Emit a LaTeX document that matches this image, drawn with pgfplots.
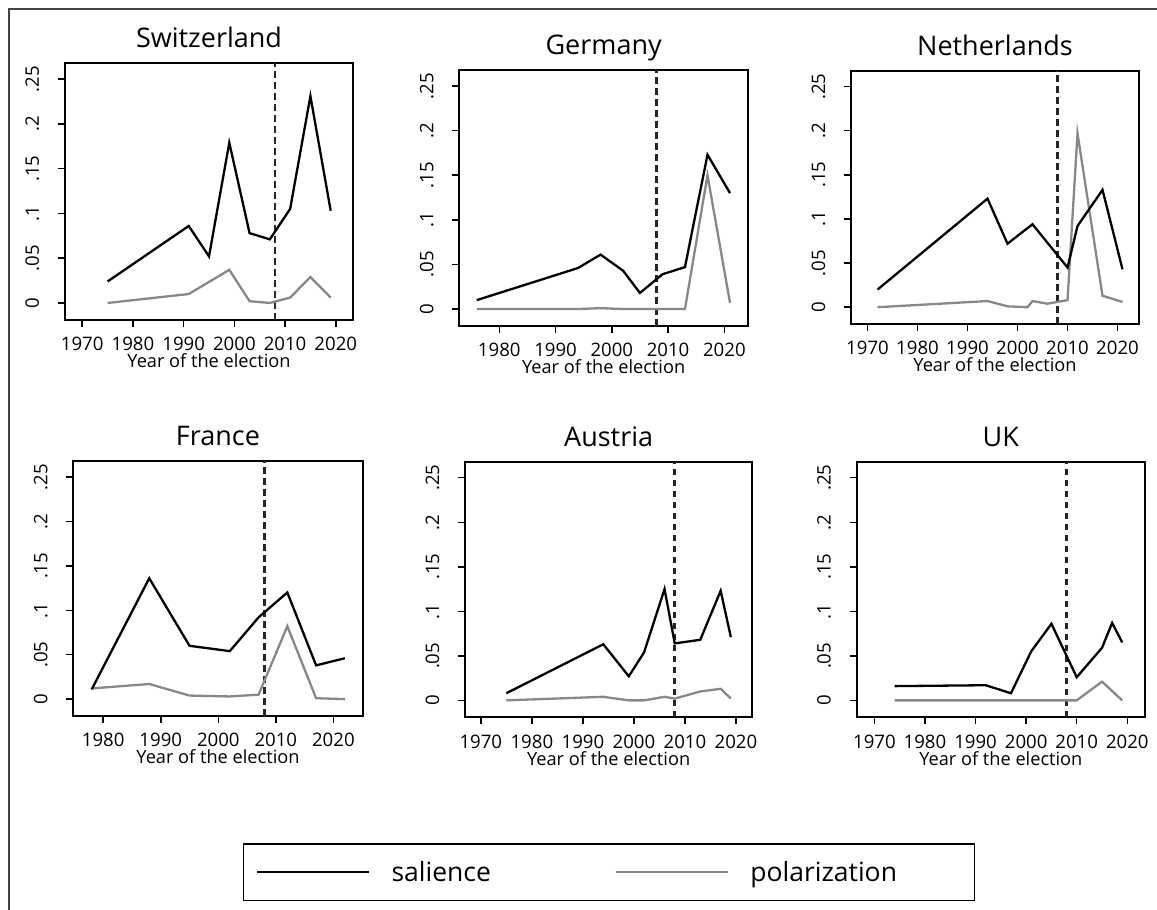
\documentclass[border=0pt]{standalone}
\usepackage{fontspec}
\setmainfont{Open Sans}
\usepackage{pgfplots}
\pgfplotsset{compat=1.18}

\definecolor{polgray}{HTML}{888888}
\definecolor{framegray}{HTML}{444444}

\pgfplotsset{
  panel/.style={
    anchor=south west, scale only axis,
    ymin=-0.019, ymax=0.268,
    ytick={0,0.05,0.1,0.15,0.2,0.25},
    yticklabels={0,.05,.1,.15,.2,.25},
    xtick={1970,1980,...,2020},
    /pgf/number format/assume math mode=true,
    /pgf/number format/1000 sep={},
    tick align=outside, xtick pos=bottom, ytick pos=left,
    major tick length=7pt,
    tick style={line width=1.5pt, black},
    axis line style={line width=1.8pt},
    xticklabel style={font=\fontsize{18.6}{22}\selectfont, anchor=base, yshift=-24pt},
    yticklabel style={font=\fontsize{18.6}{22}\selectfont, xshift=-19pt, rotate=90, anchor=base},
    xlabel={Year of the election},
    xlabel style={font=\fontsize{18.2}{22}\selectfont, at={(axis description cs:0.5,0)}, anchor=base, yshift=-48pt},
    every axis title shift=0pt,
    title style={font=\fontsize{27}{32}\selectfont, at={(axis description cs:0.5,1)}, anchor=base, yshift=15.5pt},
    clip=false,
  },
  sal/.style={black, line width=2.3pt, line join=miter},
  pol/.style={polgray, line width=2.3pt},
  cut/.style={black!85, line width=2.8pt, dash pattern=on 6.5pt off 4.5pt},
}

\begin{document}
\begin{tikzpicture}[x=1pt,y=1pt]
\useasboundingbox (0,0) rectangle (1157,910);
\draw[framegray, line width=2pt] (9,0) -- (9,901) -- (1157,901);

% Switzerland
\begin{axis}[panel, title={Switzerland}, at={(65pt,590pt)}, width=288pt, height=257pt,
  xmin=1966.6, xmax=2023.4]
\addplot[cut] coordinates {(2008,-0.019) (2008,0.268)};
\addplot[pol] coordinates {(1975,0) (1991,0.010) (1999,0.037) (2003,0.002) (2007,0) (2011,0.006) (2015,0.029) (2019,0.006)};
\addplot[sal] coordinates {(1975,0.024) (1991,0.086) (1995,0.052) (1999,0.179) (2003,0.078) (2007,0.071) (2011,0.105) (2015,0.231) (2019,0.103)};
\end{axis}

% Germany
\begin{axis}[panel, title={Germany}, at={(459.3pt,584pt)}, width=288.7pt, height=256pt,
  xmin=1972.9, xmax=2024.2, xtick={1980,1990,...,2020}]
\addplot[cut] coordinates {(2008,-0.019) (2008,0.268)};
\addplot[pol] coordinates {(1976,0) (1994,0) (1998,0.001) (2002,0) (2005,0) (2009,0) (2013,0) (2017,0.150) (2021,0.007)};
\addplot[sal] coordinates {(1976,0.010) (1994,0.046) (1998,0.061) (2002,0.043) (2005,0.018) (2009,0.039) (2013,0.047) (2017,0.173) (2021,0.130)};
\end{axis}

% Netherlands
\begin{axis}[panel, title={Netherlands}, at={(851pt,586pt)}, width=288pt, height=253.3pt,
  xmin=1966.7, xmax=2024.3]
\addplot[cut] coordinates {(2008,-0.019) (2008,0.268)};
\addplot[pol] coordinates {(1972,0) (1994,0.007) (1998,0.001) (2002,0) (2003,0.007) (2006,0.004) (2010,0.008) (2012,0.197) (2017,0.013) (2021,0.006)};
\addplot[sal] coordinates {(1972,0.020) (1994,0.123) (1998,0.072) (2003,0.094) (2010,0.045) (2012,0.092) (2017,0.133) (2021,0.043)};
\end{axis}

% France
\begin{axis}[panel, title={France}, at={(73.3pt,194pt)}, width=289.4pt, height=255pt,
  xmin=1974.8, xmax=2025.1, xtick={1980,1990,...,2020}]
\addplot[cut] coordinates {(2008,-0.019) (2008,0.268)};
\addplot[pol] coordinates {(1978,0.012) (1988,0.017) (1995,0.004) (2002,0.003) (2007,0.005) (2012,0.082) (2017,0.001) (2022,0)};
\addplot[sal] coordinates {(1978,0.011) (1988,0.136) (1995,0.060) (2002,0.054) (2007,0.092) (2012,0.120) (2017,0.038) (2022,0.046)};
\end{axis}

% Austria
\begin{axis}[panel, title={Austria}, at={(465pt,192.7pt)}, width=287.3pt, height=255.6pt,
  xmin=1966.9, xmax=2023.2]
\addplot[cut] coordinates {(2008,-0.019) (2008,0.268)};
\addplot[pol] coordinates {(1975,0) (1994,0.004) (1999,0) (2002,0) (2006,0.004) (2008,0.002) (2013,0.010) (2017,0.013) (2019,0.002)};
\addplot[sal] coordinates {(1975,0.008) (1994,0.063) (1999,0.027) (2002,0.054) (2006,0.125) (2008,0.064) (2013,0.068) (2017,0.123) (2019,0.071)};
\end{axis}

% UK
\begin{axis}[panel, title={UK}, at={(856.7pt,192.7pt)}, width=288.3pt, height=255.6pt,
  xmin=1966.5, xmax=2023.5]
\addplot[cut] coordinates {(2008,-0.019) (2008,0.268)};
\addplot[pol] coordinates {(1974,0) (2010,0) (2015,0.021) (2019,0)};
\addplot[sal] coordinates {(1974,0.016) (1992,0.017) (1997,0.008) (2001,0.055) (2005,0.086) (2010,0.026) (2015,0.059) (2017,0.087) (2019,0.065)};
\end{axis}

% Shared legend
\begin{axis}[at={(242.7pt,11.7pt)}, anchor=south west, scale only axis,
  width=726.3pt, height=55pt, hide axis, xmin=0, xmax=1, ymin=0, ymax=1,
  legend columns=2,
  legend image code/.code={\draw[#1] (0pt,0pt) -- (112pt,0pt);},
  legend style={at={(axis description cs:0,1)}, anchor=north west,
    draw=black, line width=1.5pt, inner xsep=12.3pt, inner ysep=17.5pt,
    font=\fontsize{26.5}{31}\selectfont,
    nodes={inner sep=0pt},
    /tikz/every odd column/.append style={column sep=21.5pt},
    /tikz/every even column/.append style={column sep=0pt}}]
\addlegendimage{black, line width=2.3pt}
\addlegendentry{\raisebox{0pt}[20pt][0pt]{\makebox[223pt][l]{salience}}}
\addlegendimage{polgray, line width=2.3pt}
\addlegendentry{\raisebox{0pt}[20pt][0pt]{\makebox[211.7pt][l]{polarization}}}
\end{axis}
\end{tikzpicture}
\end{document}
